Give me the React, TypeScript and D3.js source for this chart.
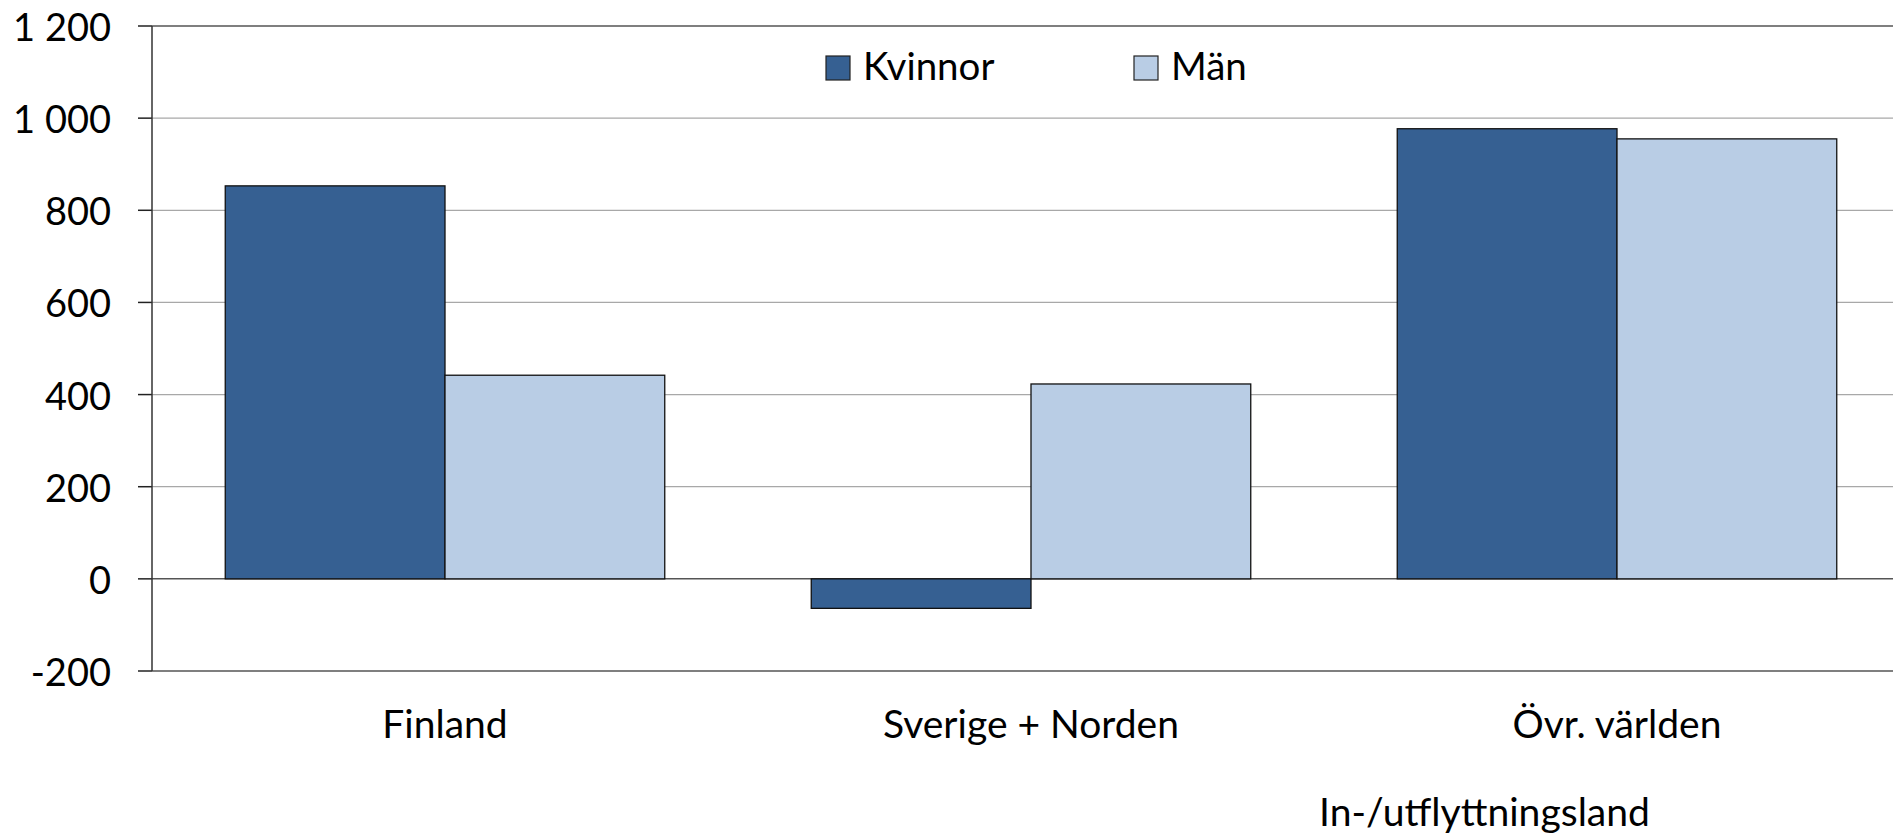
import React from "react";
import * as d3 from "d3";

const categories = ["Finland", "Sverige + Norden", "Övr. världen"];
const seriesNames = ["Kvinnor", "Män"];
const kvinnor = [853, -64, 977];
const man = [442, 423, 955];
const yTicks = [-200, 0, 200, 400, 600, 800, 1000, 1200];
const colors = ["#366092", "#B9CDE5"];
const xTitle = "In-/utflyttningsland";

const W = 1893;
const H = 835;
const FONT = "Lato, 'Open Sans', sans-serif";

export default function App() {
  const left = 152;
  const top = 26;
  const bottom = 671;
  const x0 = d3
    .scaleBand<string>()
    .domain(categories)
    .range([left, left + 1758])
    .paddingInner(0.25)
    .paddingOuter(0.125);
  const x1 = d3
    .scaleBand<string>()
    .domain(seriesNames)
    .range([0, x0.bandwidth()])
    .padding(0);
  const y = d3.scaleLinear().domain([-200, 1200]).range([bottom, top]);
  const values = [kvinnor, man];
  const fmt = (v: number) => {
    const s = Math.abs(v).toString().replace(/\B(?=(\d{3})+(?!\d))/g, " ");
    return (v < 0 ? "-" : "") + s;
  };

  return (
    <svg
      width={W}
      height={H}
      style={{ position: "absolute", left: 0, top: 0, background: "#fff" }}
      fontFamily={FONT}
    >
      {yTicks.map((t) => {
        const dark = t === 1200 || t === -200 || t === 0;
        return (
          <g key={t}>
            <line
              x1={left}
              x2={W}
              y1={y(t)}
              y2={y(t)}
              stroke={dark ? "#555" : "#a8a8a8"}
              strokeWidth={dark ? 1.5 : 1.2}
            />
            <line x1={138} x2={left} y1={y(t)} y2={y(t)} stroke="#222" strokeWidth={1.5} />
            <text
              x={111}
              y={y(t)}
              textAnchor="end"
              dominantBaseline="central"
              fontSize={38}
              fill="#000"
            >
              {fmt(t)}
            </text>
          </g>
        );
      })}
      {categories.map((c, ci) =>
        seriesNames.map((s, si) => {
          const v = values[si][ci];
          const yy = Math.min(y(v), y(0));
          const hh = Math.abs(y(v) - y(0));
          return (
            <rect
              key={c + s}
              x={(x0(c) ?? 0) + (x1(s) ?? 0)}
              y={yy}
              width={x1.bandwidth()}
              height={hh}
              fill={colors[si]}
              stroke="#111"
              strokeWidth={1.3}
            />
          );
        })
      )}
      <line x1={left} x2={left} y1={top} y2={bottom} stroke="#333" strokeWidth={1.5} />
      {categories.map((c) => (
        <text
          key={c}
          x={(x0(c) ?? 0) + x0.bandwidth() / 2}
          y={738}
          textAnchor="middle"
          fontSize={39}
          fill="#000"
        >
          {c}
        </text>
      ))}
      <text x={1319} y={826} fontSize={39} fill="#000" textLength={331} lengthAdjust="spacingAndGlyphs">
        {xTitle}
      </text>
      {seriesNames.map((s, i) => {
        const lx = [826, 1134][i];
        return (
          <g key={s}>
            <rect x={lx} y={56} width={24} height={24} fill={colors[i]} stroke="#222" strokeWidth={1.2} />
            <text x={lx + 37} y={80} fontSize={38.5} fill="#000">
              {s}
            </text>
          </g>
        );
      })}
    </svg>
  );
}
